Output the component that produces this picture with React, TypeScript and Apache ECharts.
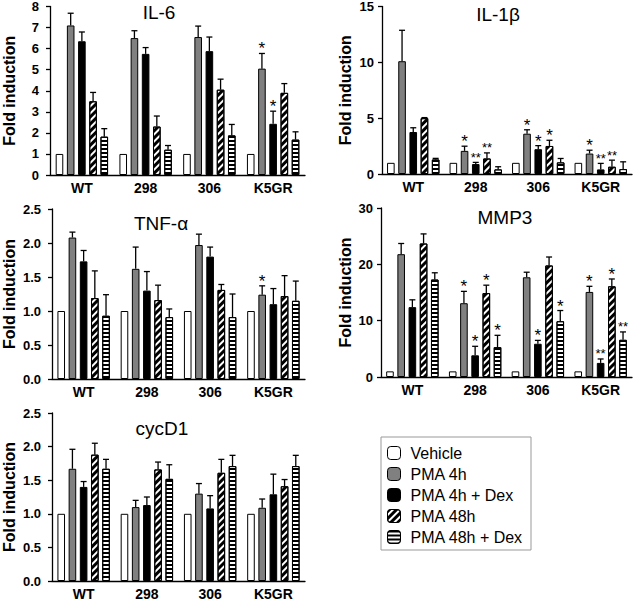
import React, { useEffect, useRef } from 'react';
import * as echarts from 'echarts';

const categories = ['WT', '298', '306', 'K5GR'];
const treatments = ['Vehicle', 'PMA 4h', 'PMA 4h + Dex', 'PMA 48h', 'PMA 48h + Dex'];

const vehicle = [1, 1, 1, 1];
const noErr = [0, 0, 0, 0];
const noSig = ['', '', '', ''];

// IL-6
const il6Pma4h = [7.1, 6.5, 6.55, 5.05];
const il6Pma4hErr = [0.58, 0.35, 0.52, 0.72];
const il6Pma4hSig = ['', '', '', '*'];
const il6Pma4hDex = [6.35, 5.75, 5.88, 2.43];
const il6Pma4hDexErr = [0.44, 0.3, 0.67, 0.6];
const il6Pma4hDexSig = ['', '', '', '*'];
const il6Pma48h = [3.5, 2.3, 4.05, 3.9];
const il6Pma48hErr = [0.42, 0.5, 0.5, 0.44];
const il6Pma48hDex = [1.82, 1.2, 1.88, 1.68];
const il6Pma48hDexErr = [0.38, 0.2, 0.52, 0.37];

// IL-1beta
const il1bPma4h = [10.1, 2.07, 3.61, 1.83];
const il1bPma4hErr = [2.77, 0.42, 0.35, 0.3];
const il1bPma4hSig = ['', '*', '*', '*'];
const il1bPma4hDex = [3.76, 0.89, 2.22, 0.41];
const il1bPma4hDexErr = [0.38, 0.15, 0.32, 0.54];
const il1bPma4hDexSig = ['', '**', '*', '**'];
const il1bPma48h = [5.0, 1.39, 2.51, 0.65];
const il1bPma48hErr = [0.05, 0.5, 0.51, 0.59];
const il1bPma48hSig = ['', '**', '*', '**'];
const il1bPma48hDex = [1.3, 0.41, 1.04, 0.44];
const il1bPma48hDexErr = [0.1, 0.24, 0.35, 0.65];

// TNF-alpha
const tnfPma4h = [2.08, 1.62, 1.97, 1.24];
const tnfPma4hErr = [0.08, 0.32, 0.16, 0.13];
const tnfPma4hSig = ['', '', '', '*'];
const tnfPma4hDex = [1.73, 1.3, 1.8, 1.1];
const tnfPma4hDexErr = [0.16, 0.28, 0.14, 0.23];
const tnfPma48h = [1.19, 1.16, 1.31, 1.22];
const tnfPma48hErr = [0.4, 0.22, 0.08, 0.3];
const tnfPma48hDex = [0.93, 0.91, 0.91, 1.15];
const tnfPma48hDexErr = [0.31, 0.12, 0.34, 0.29];

// MMP3
const mmpPma4h = [21.8, 13.1, 17.7, 15.1];
const mmpPma4hErr = [1.9, 2.1, 0.9, 1.0];
const mmpPma4hSig = ['', '*', '', '*'];
const mmpPma4hDex = [12.4, 3.85, 5.9, 2.5];
const mmpPma4hDexErr = [1.3, 1.6, 0.6, 0.7];
const mmpPma4hDexSig = ['', '*', '*', '**'];
const mmpPma48h = [23.7, 14.9, 19.8, 16.1];
const mmpPma48hErr = [1.7, 1.4, 1.5, 1.3];
const mmpPma48hSig = ['', '*', '', '*'];
const mmpPma48hDex = [17.3, 5.3, 9.9, 6.6];
const mmpPma48hDexErr = [1.2, 2.1, 1.9, 1.4];
const mmpPma48hDexSig = ['', '*', '*', '**'];

// cycD1
const cycPma4h = [1.67, 1.1, 1.3, 1.09];
const cycPma4hErr = [0.29, 0.1, 0.15, 0.13];
const cycPma4hDex = [1.4, 1.13, 1.08, 1.29];
const cycPma4hDexErr = [0.08, 0.12, 0.19, 0.3];
const cycPma48h = [1.88, 1.66, 1.61, 1.41];
const cycPma48hErr = [0.17, 0.11, 0.2, 0.1];
const cycPma48hDex = [1.67, 1.52, 1.71, 1.71];
const cycPma48hDexErr = [0.14, 0.21, 0.16, 0.16];

const genes = [
  {
    title: 'IL-6', max: 8, interval: 1, decimals: 0,
    means: [vehicle, il6Pma4h, il6Pma4hDex, il6Pma48h, il6Pma48hDex],
    errs: [noErr, il6Pma4hErr, il6Pma4hDexErr, il6Pma48hErr, il6Pma48hDexErr],
    sigs: [noSig, il6Pma4hSig, il6Pma4hDexSig, noSig, noSig],
  },
  {
    title: 'IL-1β', max: 15, interval: 5, decimals: 0,
    means: [vehicle, il1bPma4h, il1bPma4hDex, il1bPma48h, il1bPma48hDex],
    errs: [noErr, il1bPma4hErr, il1bPma4hDexErr, il1bPma48hErr, il1bPma48hDexErr],
    sigs: [noSig, il1bPma4hSig, il1bPma4hDexSig, il1bPma48hSig, noSig],
  },
  {
    title: 'TNF-α', max: 2.5, interval: 0.5, decimals: 1,
    means: [vehicle, tnfPma4h, tnfPma4hDex, tnfPma48h, tnfPma48hDex],
    errs: [noErr, tnfPma4hErr, tnfPma4hDexErr, tnfPma48hErr, tnfPma48hDexErr],
    sigs: [noSig, tnfPma4hSig, noSig, noSig, noSig],
  },
  {
    title: 'MMP3', max: 30, interval: 10, decimals: 0,
    means: [vehicle, mmpPma4h, mmpPma4hDex, mmpPma48h, mmpPma48hDex],
    errs: [noErr, mmpPma4hErr, mmpPma4hDexErr, mmpPma48hErr, mmpPma48hDexErr],
    sigs: [noSig, mmpPma4hSig, mmpPma4hDexSig, mmpPma48hSig, mmpPma48hDexSig],
  },
  {
    title: 'cycD1', max: 2.5, interval: 0.5, decimals: 1,
    means: [vehicle, cycPma4h, cycPma4hDex, cycPma48h, cycPma48hDex],
    errs: [noErr, cycPma4hErr, cycPma4hDexErr, cycPma48hErr, cycPma48hDexErr],
    sigs: [noSig, noSig, noSig, noSig, noSig],
  },
];

// layout (pixels)
const layouts = [
  { left: 50, top: 6, width: 255, height: 169, labelMargin: 11, nameGap: 33, titleX: 159, titleY: 12 },
  { left: 382, top: 5, width: 250, height: 169, labelMargin: 8, nameGap: 29, titleX: 498, titleY: 14 },
  { left: 51, top: 209, width: 254, height: 170, labelMargin: 11, nameGap: 35, titleX: 161, titleY: 223 },
  { left: 381, top: 208, width: 251, height: 169, labelMargin: 8, nameGap: 28, titleX: 505, titleY: 217 },
  { left: 51, top: 413, width: 254, height: 169, labelMargin: 11, nameGap: 35, titleX: 162, titleY: 428 },
];

const FONT = '"Liberation Sans", Arial, Helvetica, sans-serif';
const BAR_W = 7.6;
const BAR_GAP = 3.6;

function barOffset(i: number) {
  const total = 5 * BAR_W + 4 * BAR_GAP;
  return -total / 2 + i * (BAR_W + BAR_GAP) + BAR_W / 2;
}

const barStyles: any[] = [
  { color: '#ffffff', borderColor: '#000', borderWidth: 1 },
  { color: '#808080', borderColor: '#000', borderWidth: 1 },
  { color: '#000000', borderColor: '#000', borderWidth: 1 },
  {
    color: '#ffffff', borderColor: '#000', borderWidth: 1,
    decal: { symbol: 'rect', symbolSize: 1, dashArrayX: [1, 0], dashArrayY: [2.2, 2], rotation: -Math.PI / 4, color: '#000' },
  },
  {
    color: '#ffffff', borderColor: '#000', borderWidth: 1,
    decal: { symbol: 'rect', symbolSize: 1, dashArrayX: [1, 0], dashArrayY: [2, 2], rotation: 0, color: '#000' },
  },
];

export default function App() {
  const ref = useRef<HTMLDivElement>(null);
  useEffect(() => {
    document.body.style.margin = '0';
    const chart = echarts.init(ref.current!, undefined, { renderer: 'svg' });
    const grid: any[] = [];
    const xAxis: any[] = [];
    const yAxis: any[] = [];
    const series: any[] = [];
    const graphic: any[] = [];
    genes.forEach((g, gi) => {
      const L = layouts[gi];
      grid.push({ left: L.left, top: L.top, width: L.width, height: L.height });
      xAxis.push({
        type: 'category', gridIndex: gi, data: categories,
        axisLine: { lineStyle: { color: '#000', width: 1.3 } },
        axisTick: { alignWithLabel: true, length: 4, lineStyle: { color: '#000', width: 1.3 } },
        axisLabel: { color: '#000', fontWeight: 'bold', fontSize: 14, margin: 6, fontFamily: FONT },
      });
      yAxis.push({
        type: 'value', gridIndex: gi, min: 0, max: g.max, interval: g.interval,
        axisLine: { show: true, lineStyle: { color: '#000', width: 1.3 } },
        axisTick: { show: true, length: 4, lineStyle: { color: '#000', width: 1.3 } },
        splitLine: { show: false },
        axisLabel: {
          color: '#000', fontWeight: 'bold', fontSize: 13, margin: L.labelMargin, fontFamily: FONT,
          formatter: (v: number) => v.toFixed(g.decimals),
        },
        name: 'Fold induction', nameLocation: 'middle', nameGap: L.nameGap,
        nameTextStyle: { fontWeight: 'bold', fontSize: 16, color: '#000', fontFamily: FONT },
      });
      g.means.forEach((m, si) => {
        series.push({
          type: 'bar', name: treatments[si], xAxisIndex: gi, yAxisIndex: gi,
          data: m, barWidth: BAR_W, barGap: (BAR_GAP / BAR_W) * 100 + '%',
          itemStyle: barStyles[si], emphasis: { disabled: true },
        });
      });
      const errData: number[][] = [];
      const sigList: string[] = [];
      g.means.forEach((m, si) => {
        m.forEach((v, ci) => {
          errData.push([ci, si, v, g.errs[si][ci]]);
          sigList.push(g.sigs[si][ci]);
        });
      });
      series.push({
        type: 'custom', xAxisIndex: gi, yAxisIndex: gi, z: 5, clip: false,
        encode: { x: 0, y: 2 },
        data: errData,
        renderItem: (params: any, api: any) => {
          const ci = api.value(0);
          const si = api.value(1);
          const mean = api.value(2);
          const err = api.value(3);
          const sig = sigList[params.dataIndex];
          const base = api.coord([ci, mean]);
          const top = api.coord([ci, mean + err]);
          const x = base[0] + barOffset(si);
          const children: any[] = [];
          if (err > 0) {
            children.push({ type: 'line', shape: { x1: x, y1: base[1], x2: x, y2: top[1] }, style: { stroke: '#000', lineWidth: 1.3 } });
            children.push({ type: 'line', shape: { x1: x - 3, y1: top[1], x2: x + 3, y2: top[1] }, style: { stroke: '#000', lineWidth: 1.3 } });
          }
          if (sig) {
            const fs = sig.length > 1 ? 13 : 17;
            children.push({
              type: 'text', x, y: top[1] - (sig.length > 1 ? 5 : 4.5),
              style: { text: sig, fontSize: fs, fontFamily: FONT, fill: '#000', align: 'center', verticalAlign: 'middle' },
            });
          }
          return { type: 'group', children };
        },
      });
      graphic.push({
        type: 'text', x: L.titleX, y: L.titleY,
        style: { text: g.title, fontSize: 19, fontFamily: FONT, fill: '#000', align: 'center', verticalAlign: 'middle' },
      });
    });
    chart.setOption({
      animation: false,
      textStyle: { fontFamily: FONT },
      grid, xAxis, yAxis, series, graphic,
      legend: {
        data: treatments, orient: 'vertical', left: 381, top: 437, selectedMode: false,
        itemWidth: 13, itemHeight: 13, itemGap: 5, padding: [8, 8, 5, 6],
        borderColor: '#999', borderWidth: 1,
        textStyle: { fontSize: 16, color: '#000', fontFamily: FONT, padding: [0, 0, 0, 5] },
        itemStyle: { borderColor: '#000', borderWidth: 1 },
      },
    });
    return () => chart.dispose();
  }, []);
  return <div ref={ref} style={{ position: 'absolute', left: 0, top: 0, width: 640, height: 601 }} />;
}
